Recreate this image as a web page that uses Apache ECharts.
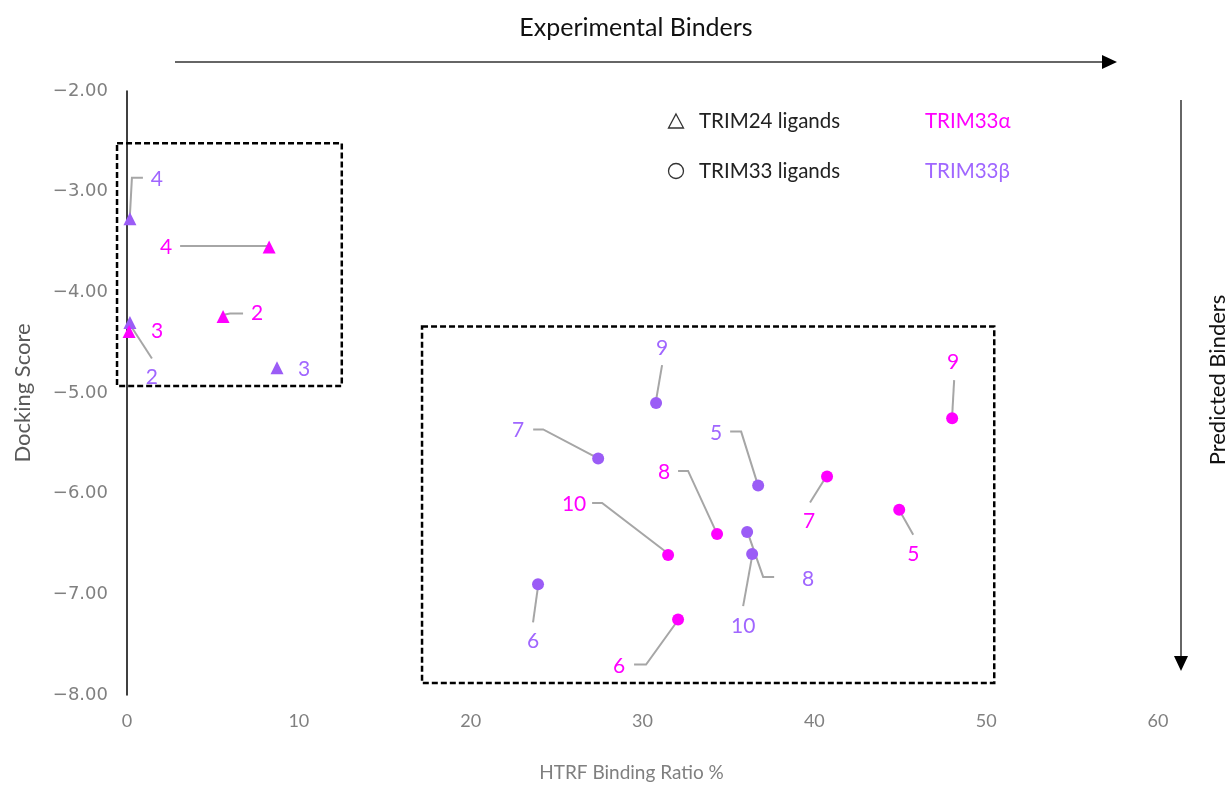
<!DOCTYPE html>
<html>
<head>
<meta charset="utf-8">
<script src="https://cdn.jsdelivr.net/npm/echarts@6/dist/echarts.min.js"></script>
<style>
html,body{margin:0;padding:0;background:#fff;}
#chart{width:1231px;height:787px;}
</style>
</head>
<body>
<div id="chart"></div>
<script>
// ---- data ----
const triIds = [2, 3, 4];
const triAlphaX = [5.59, 0.12, 8.27];
const triAlphaY = [-4.24, -4.39, -3.55];
const triBetaX = [0.17, 8.73, 0.17];
const triBetaY = [-4.30, -4.75, -3.27];

const circIds = [5, 6, 7, 8, 9, 10];
const circAlphaX = [44.94, 32.07, 40.74, 34.34, 48.02, 31.49];
const circAlphaY = [-6.16, -7.25, -5.83, -6.40, -5.25, -6.61];
const circBetaX = [36.73, 23.92, 27.42, 36.09, 30.79, 36.38];
const circBetaY = [-5.92, -6.90, -5.65, -6.38, -5.10, -6.60];

// dashed group boxes [xMin, yMax, xMax, yMin] in data units
const boxLeft = [-0.58, -2.52, 12.5, -4.93];
const boxRight = [17.17, -4.34, 50.47, -7.88];

// ---- callout layout (pixel offsets from each point) ----
const triAlphaCallouts = [
  {leader: [[2,-2],[7,-3],[20,-3]], label: [34,-3]},
  {leader: null, label: [28,0]},
  {leader: [[-2,-1],[-89,-1]], label: [-103,0]}
];
const triBetaCallouts = [
  {leader: [[0,2],[22,36]], label: [22,55]},
  {leader: null, label: [27,1]},
  {leader: [[0,-4],[2,-41],[13,-41]], label: [27,-40]}
];
const circAlphaCallouts = [
  {leader: [[1,2],[14,25]], label: [14,44]},
  {leader: [[-1,2],[-32,45],[-44,45]], label: [-59,47]},
  {leader: [[-2,2],[-17,26]], label: [-18,45]},
  {leader: [[0,0],[-29,-63],[-39,-63]], label: [-53,-62]},
  {leader: [[0,-2],[2,-38]], label: [1,-56]},
  {leader: [[-2,-3],[-66,-52],[-76,-52]], label: [-94,-51]}
];
const circBetaCallouts = [
  {leader: [[-1,-3],[-17,-54],[-28,-54]], label: [-42,-52]},
  {leader: [[0,2],[-5,38]], label: [-5,57]},
  {leader: [[0,0],[-55,-29],[-65,-29]], label: [-80,-28]},
  {leader: [[1,2],[16,45],[27,45]], label: [61,47]},
  {leader: [[0,-3],[6,-38]], label: [6,-55]},
  {leader: [[0,2],[-9,52]], label: [-9,72]}
];

const PINK = '#ff00ff';
const PURPLE = '#9b5cf6';
const PURPLE_TXT = '#a066ff';
const LEADER = '#a6a6a6';
const FONT = 'Lato, "Open Sans", sans-serif';

function pts(xs, ys, ids) { return xs.map((x, i) => [x, ys[i], ids[i]]); }

function calloutSeries(data, callouts, color) {
  return {
    type: 'custom',
    z: 2,
    silent: true,
    clip: false,
    data: data,
    renderItem: function (params, api) {
      const p = api.coord([api.value(0), api.value(1)]);
      const c = callouts[params.dataIndex];
      const children = [];
      if (c.leader) {
        children.push({
          type: 'polyline',
          shape: {points: c.leader.map(o => [p[0] + o[0], p[1] + o[1]])},
          style: {stroke: LEADER, lineWidth: 2, fill: null}
        });
      }
      children.push({
        type: 'text',
        style: {
          text: String(api.value(2)),
          x: p[0] + c.label[0], y: p[1] + c.label[1],
          fill: color, font: '21px ' + FONT,
          textAlign: 'center', textVerticalAlign: 'middle'
        }
      });
      return {type: 'group', children: children};
    }
  };
}

const chart = echarts.init(document.getElementById('chart'));
const option = {
  animation: false,
  backgroundColor: '#fff',
  grid: {left: 127, right: 73, top: 91, bottom: 91},
  xAxis: {
    type: 'value', min: 0, max: 60, interval: 10,
    axisLine: {show: false}, axisTick: {show: false}, splitLine: {show: false},
    axisLabel: {color: '#808080', fontSize: 18, fontFamily: FONT, margin: 17},
    name: 'HTRF Binding Ratio %', nameLocation: 'middle', nameGap: 68,
    nameTextStyle: {color: '#7f7f7f', fontSize: 19, fontFamily: FONT, padding: [0, 22, 0, 0]}
  },
  yAxis: {
    type: 'value', min: -8, max: -2, interval: 1,
    axisLine: {show: true, lineStyle: {color: '#000', width: 1.5}},
    axisTick: {show: false}, splitLine: {show: false},
    axisLabel: {
      color: '#808080', fontSize: 18, fontFamily: '"DejaVu Sans", sans-serif', margin: 19,
      formatter: v => (v < 0 ? '\u2212' : '') + Math.abs(v).toFixed(2)
    },
    name: 'Docking Score', nameLocation: 'middle', nameGap: 93,
    nameTextStyle: {color: '#595959', fontSize: 22, fontFamily: FONT}
  },
  series: [
    {
      type: 'custom', z: 1, silent: true, clip: false,
      data: [boxLeft, boxRight],
      renderItem: function (params, api) {
        const a = api.coord([api.value(0), api.value(1)]);
        const b = api.coord([api.value(2), api.value(3)]);
        return {
          type: 'rect',
          shape: {x: a[0], y: a[1], width: b[0] - a[0], height: b[1] - a[1]},
          style: {fill: null, stroke: '#000', lineWidth: 2.5, lineDash: [6, 3]}
        };
      }
    },
    calloutSeries(pts(triAlphaX, triAlphaY, triIds), triAlphaCallouts, PINK),
    calloutSeries(pts(triBetaX, triBetaY, triIds), triBetaCallouts, PURPLE_TXT),
    calloutSeries(pts(circAlphaX, circAlphaY, circIds), circAlphaCallouts, PINK),
    calloutSeries(pts(circBetaX, circBetaY, circIds), circBetaCallouts, PURPLE_TXT),
    {type: 'scatter', z: 5, symbol: 'triangle', symbolSize: 13, itemStyle: {color: PINK, opacity: 1},
     data: pts(triAlphaX, triAlphaY, triIds)},
    {type: 'scatter', z: 4, symbol: 'triangle', symbolSize: 13, itemStyle: {color: PURPLE, opacity: 1},
     data: pts(triBetaX, triBetaY, triIds)},
    {type: 'scatter', z: 5, symbol: 'circle', symbolSize: 12, itemStyle: {color: PINK, opacity: 1},
     data: pts(circAlphaX, circAlphaY, circIds)},
    {type: 'scatter', z: 5, symbol: 'circle', symbolSize: 12, itemStyle: {color: PURPLE, opacity: 1},
     data: pts(circBetaX, circBetaY, circIds)}
  ],
  graphic: [
    {type: 'text', x: 636, y: 28,
     style: {text: 'Experimental Binders', fill: '#111', font: '25px ' + FONT, textAlign: 'center', textVerticalAlign: 'middle'}},
    {type: 'line', shape: {x1: 175, y1: 62, x2: 1104, y2: 62}, style: {stroke: '#333', lineWidth: 1.5}},
    {type: 'polygon', shape: {points: [[1102, 55], [1117, 62], [1102, 69]]}, style: {fill: '#000'}},
    {type: 'line', shape: {x1: 1181, y1: 100, x2: 1181, y2: 658}, style: {stroke: '#333', lineWidth: 1.5}},
    {type: 'polygon', shape: {points: [[1174, 656], [1181, 671], [1188, 656]]}, style: {fill: '#000'}},
    {type: 'text', rotation: Math.PI / 2, x: 1218, y: 380,
     style: {text: 'Predicted Binders', fill: '#111', font: '22px ' + FONT, textAlign: 'center', textVerticalAlign: 'middle'}},
    // legend
    {type: 'polygon', shape: {points: [[676, 114], [683.5, 128], [668.5, 128]]}, style: {fill: null, stroke: '#333', lineWidth: 1.3}},
    {type: 'circle', shape: {cx: 676, cy: 171, r: 7.5}, style: {fill: null, stroke: '#333', lineWidth: 1.3}},
    {type: 'text', x: 699, y: 121, style: {text: 'TRIM24 ligands', fill: '#222', font: '20.5px ' + FONT, textVerticalAlign: 'middle'}},
    {type: 'text', x: 699, y: 171, style: {text: 'TRIM33 ligands', fill: '#222', font: '20.5px ' + FONT, textVerticalAlign: 'middle'}},
    {type: 'text', x: 925, y: 121, style: {text: 'TRIM33\u03b1', fill: PINK, font: '20.5px ' + FONT, textVerticalAlign: 'middle'}},
    {type: 'text', x: 925, y: 171, style: {text: 'TRIM33\u03b2', fill: PURPLE_TXT, font: '20.5px ' + FONT, textVerticalAlign: 'middle'}}
  ]
};
chart.setOption(option);
</script>
</body>
</html>
